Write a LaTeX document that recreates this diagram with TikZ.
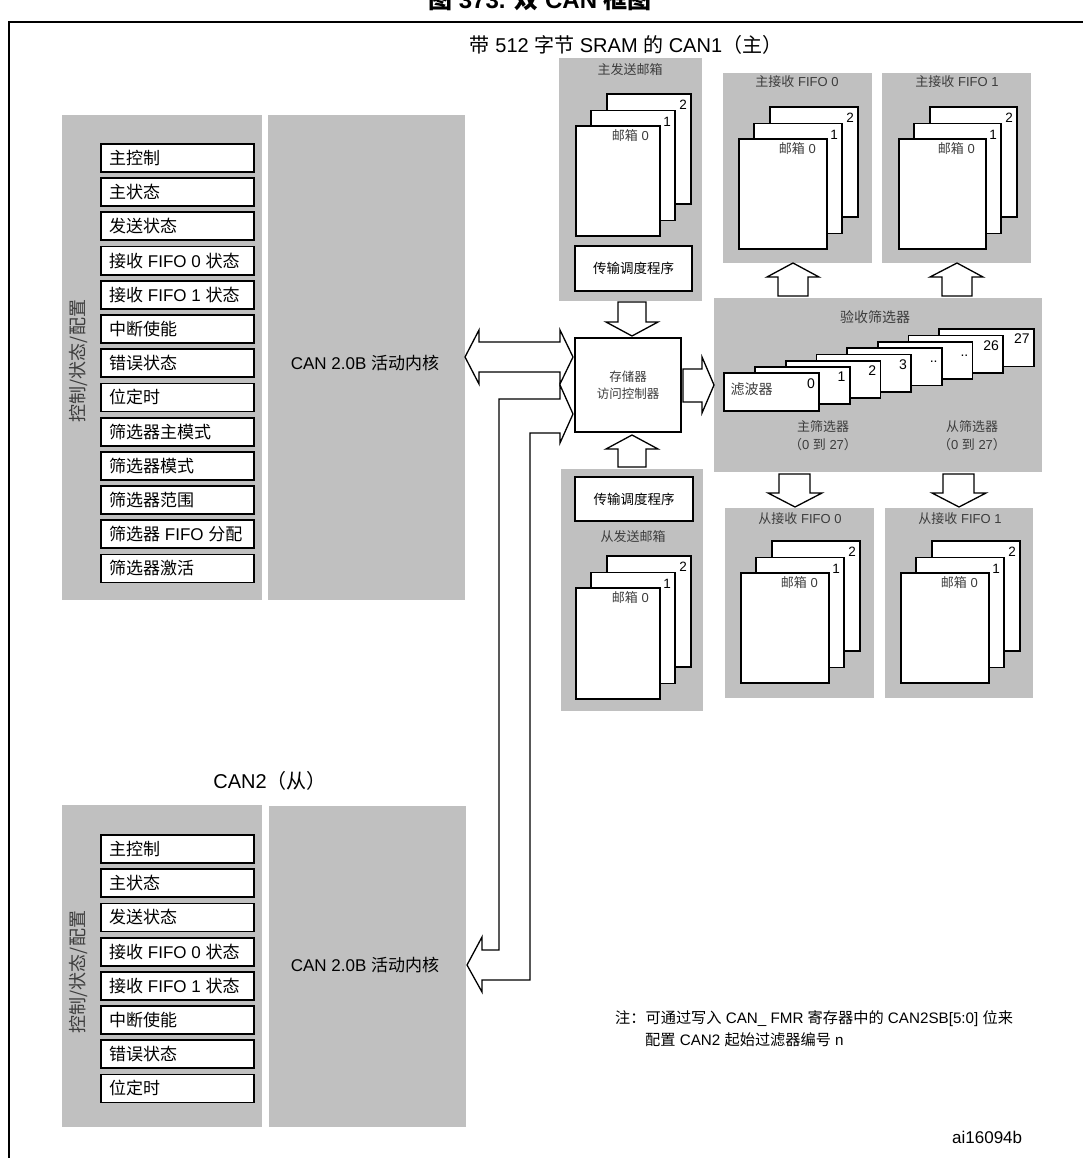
\documentclass[tikz,border=0pt]{standalone}
\usepackage{fontspec}
\setmainfont{Liberation Sans}
\newfontfamily\cjk{Noto Sans CJK SC}
\newcommand\zh[1]{{\cjk #1}}
\newcommand\fsz[1]{\fontsize{#1pt}{#1pt}\selectfont}
\usetikzlibrary{calc,fit}
\definecolor{panelgray}{RGB}{192,192,192}
\definecolor{lbl}{RGB}{60,60,60}
\tikzset{
  panel/.style={fill=panelgray, draw=none, inner sep=0pt, outer sep=0pt},
  regbox/.style={draw=black, line width=1.8pt, fill=white, inner sep=0pt, outer sep=0pt},
  card/.style={draw=black, line width=1.8pt, fill=white, inner sep=0pt, outer sep=0pt},
  barrow/.style={draw=black, line width=1.3pt, fill=white, line join=miter},
  reglabel/.style={anchor=west, inner sep=0pt, font=\fsz{17}},
  ptitle/.style={inner sep=0pt, font=\fsz{13}, text=lbl},
  num/.style={inner sep=0pt, font=\fsz{13.5}, anchor=east},
  bigtitle/.style={inner sep=0pt, font=\fsz{20}},
  vlabel/.style={rotate=90, inner sep=0pt, font=\fsz{18}, text=lbl},
  corelabel/.style={inner sep=0pt, font=\fsz{17}},
}
\newcommand\mailstack[5]{%
  \node[card, fit={({#2+31},{#3-32}) ({#2+31+#4},{#3-32+#5})}] (#1b) {};
  \node[card, fit={({#2+15},{#3-15.5}) ({#2+15+#4},{#3-15.5+#5})}] (#1m) {};
  \node[card, fit={(#2,#3) ({#2+#4},{#3+#5})}] (#1f) {};
  \node[num] (#1bl) at ($(#1b.north east)+(-4,11)$) {2};
  \node[num] (#1ml) at ($(#1m.north east)+(-4,11)$) {1};
  \node[num, font=\fsz{13}, text=lbl] (#1fl) at ($(#1f.north east)+(-11,9.5)$) {\zh{邮箱} 0};
}
\begin{document}
\begin{tikzpicture}[x=1pt,y=-1pt]
\useasboundingbox (0,0) rectangle (1082,1158);
% frame and title (the title is cut by the top edge, as in the original)
\draw[line width=2pt] (8.5,1160) -- (8.5,22) -- (1084,22);
\node[inner sep=0pt, font=\fsz{24}\bfseries, anchor=base] (fig) at (540,9) {\zh{图} 373. \zh{双} CAN \zh{框图}};

% ===== CAN1 =====
\node[bigtitle] (t1) at (626,45) {\zh{带} 512 \zh{字节} SRAM \zh{的} CAN1\zh{（主）}};
\node[panel, fit={(62,115) (262,600)}] (c1reg) {};
\node[panel, fit={(268,115) (465,600)}] (c1core) {};
\node[vlabel] (c1v) at (79,361) {\zh{控制/状态/配置}};
\node[corelabel] (c1cl) at (365,363) {CAN 2.0B \zh{活动内核}};
\foreach \t [count=\i from 0] in {{\zh{主控制}},{\zh{主状态}},{\zh{发送状态}},{\zh{接收} FIFO 0 \zh{状态}},{\zh{接收} FIFO 1 \zh{状态}},{\zh{中断使能}},{\zh{错误状态}},{\zh{位定时}},{\zh{筛选器主模式}},{\zh{筛选器模式}},{\zh{筛选器范围}},{\zh{筛选器} FIFO \zh{分配}},{\zh{筛选器激活}}} {
  \pgfmathsetmacro\yt{144+\i*34.2}
  \node[regbox, fit={(101,\yt) (254,{\yt+28})}] (ra\i) {};
  \node[reglabel] (ral\i) at ($(ra\i.west)+(8,0)$) {\t};
}

% ===== CAN2 =====
\node[bigtitle] (t2) at (270,781) {CAN2\zh{（从）}};
\node[panel, fit={(62,805) (262,1127)}] (c2reg) {};
\node[panel, fit={(269,806) (466,1127)}] (c2core) {};
\node[vlabel] (c2v) at (79,972) {\zh{控制/状态/配置}};
\node[corelabel] (c2cl) at (365,965) {CAN 2.0B \zh{活动内核}};
\foreach \t [count=\i from 0] in {{\zh{主控制}},{\zh{主状态}},{\zh{发送状态}},{\zh{接收} FIFO 0 \zh{状态}},{\zh{接收} FIFO 1 \zh{状态}},{\zh{中断使能}},{\zh{错误状态}},{\zh{位定时}}} {
  \pgfmathsetmacro\yt{835+\i*34.2}
  \node[regbox, fit={(101,\yt) (254,{\yt+28})}] (rb\i) {};
  \node[reglabel] (rbl\i) at ($(rb\i.west)+(8,0)$) {\t};
}

% ===== transmit mailboxes =====
\node[panel, fit={(559,58) (702,301)}] (mtx) {};
\node[ptitle] (mtxl) at (630,70) {\zh{主发送邮箱}};
\mailstack{mtxs}{576}{126}{84}{110}
\node[regbox, fit={(575,246) (692,291)}] (msch) {};
\node[inner sep=0pt, font=\fsz{13.5}] (mschl) at (msch.center) {\zh{传输调度程序}};

\node[panel, fit={(561,469) (703,711)}] (stx) {};
\node[regbox, fit={(575,477) (693,521)}] (ssch) {};
\node[inner sep=0pt, font=\fsz{13.5}] (sschl) at (ssch.center) {\zh{传输调度程序}};
\node[ptitle] (stxl) at (633,537) {\zh{从发送邮箱}};
\mailstack{stxs}{576}{588}{84}{111}

% ===== receive FIFOs =====
\node[panel, fit={(723,73) (872,263)}] (mf0) {};
\node[ptitle] (mf0l) at (797,82) {\zh{主接收} FIFO 0};
\mailstack{mf0s}{739}{139}{88}{110}
\node[panel, fit={(882,73) (1031,263)}] (mf1) {};
\node[ptitle] (mf1l) at (957,82) {\zh{主接收} FIFO 1};
\mailstack{mf1s}{899}{139}{87}{110}

\node[panel, fit={(725,508) (874,698)}] (sf0) {};
\node[ptitle] (sf0l) at (800,519) {\zh{从接收} FIFO 0};
\mailstack{sf0s}{741}{573}{88}{110}
\node[panel, fit={(885,508) (1033,698)}] (sf1) {};
\node[ptitle] (sf1l) at (960,519) {\zh{从接收} FIFO 1};
\mailstack{sf1s}{901}{573}{88}{110}

% ===== acceptance filters =====
\node[panel, fit={(714,298) (1042,472)}] (flt) {};
\node[ptitle, font=\fsz{14}] (fltt) at (875,317) {\zh{验收筛选器}};
\foreach \k/\t in {7/27,6/26,5/..,4/..,3/3,2/2,1/1,0/0} {
  \pgfmathsetmacro\fx{724.3+\k*30.7}
  \pgfmathsetmacro\fy{373.3-\k*6.3}
  \node[card, fit={(\fx,\fy) ({\fx+94.7},{\fy+37.3})}] (flt\k) {};
  \node[num, anchor=north east, text height=10pt, text depth=0pt, font=\fsz{14}] (fltl\k) at ($(flt\k.north east)+(-4,4.5)$) {\t};
}
\node[anchor=west, inner sep=0pt, font=\fsz{14}, text=lbl] (fltname) at ($(flt0.west)+(6,-3)$) {\zh{滤波器}};
\node[ptitle] (mfa) at (823,427) {\zh{主筛选器}};
\node[ptitle] (mfb) at (823,445) {\zh{（}0 \zh{到} 27\zh{）}};
\node[ptitle] (sfa) at (972,427) {\zh{从筛选器}};
\node[ptitle] (sfb) at (972,445) {\zh{（}0 \zh{到} 27\zh{）}};

% ===== memory access controller =====
\node[regbox, fit={(575,338) (681,432)}] (mac) {};
\node[inner sep=0pt, font=\fsz{12.5}, text=lbl, align=center] (macl) at (628,385) {\zh{存储器}\\[5pt]\zh{访问控制器}};

% ===== block arrows =====
% scheduler (master) -> controller
\draw[barrow] (618,302) -- (618,322) -- (606,322) -- (632,336) -- (658,322) -- (646,322) -- (646,302) -- cycle;
% scheduler (slave) -> controller
\draw[barrow] (618,467) -- (618,449) -- (606,449) -- (632,435) -- (658,449) -- (646,449) -- (646,467) -- cycle;
% CAN1 core <-> controller
\draw[barrow] (465,357) -- (479,330) -- (479,342) -- (560,342) -- (560,330) -- (573,357) -- (560,384) -- (560,372) -- (479,372) -- (479,384) -- cycle;
% CAN2 core <-> controller
\draw[barrow] (573,414) -- (560,443) -- (560,433) -- (530,433) -- (530,980) -- (482,980) -- (482,992) -- (467,965) -- (482,937) -- (482,950) -- (499,950) -- (499,399) -- (560,399) -- (560,385) -- cycle;
% controller -> filters
\draw[barrow] (683,369) -- (702,369) -- (702,357) -- (714,385) -- (702,413) -- (702,402) -- (683,402) -- cycle;
% filters -> master FIFOs
\draw[barrow] (778,296) -- (778,277) -- (767,277) -- (793,263) -- (819,277) -- (808,277) -- (808,296) -- cycle;
\draw[barrow] (942,296) -- (942,277) -- (930,277) -- (957,263) -- (983,277) -- (972,277) -- (972,296) -- cycle;
% filters -> slave FIFOs
\draw[barrow] (779,474) -- (779,493) -- (768,493) -- (795,507) -- (822,493) -- (810,493) -- (810,474) -- cycle;
\draw[barrow] (943,474) -- (943,493) -- (932,493) -- (959,507) -- (986,493) -- (974,493) -- (974,474) -- cycle;

% ===== note =====
\node[anchor=west, inner sep=0pt, font=\fsz{15.2}] (note1) at (615,1019) {\zh{注：可通过写入} CAN\_ FMR \zh{寄存器中的} CAN2SB[5:0] \zh{位来}};
\node[anchor=west, inner sep=0pt, font=\fsz{15.2}] (note2) at (645,1040) {\zh{配置} CAN2 \zh{起始过滤器编号} n};
\node[anchor=west, inner sep=0pt, font=\fsz{17}] (code) at (952,1137) {ai16094b};
\end{tikzpicture}
\end{document}
